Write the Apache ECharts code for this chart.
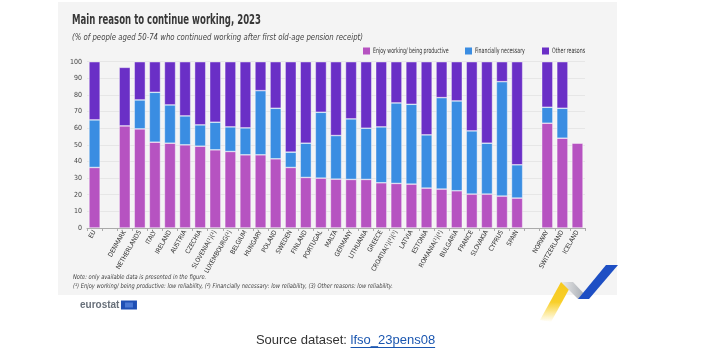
<!DOCTYPE html>
<html>
<head>
<meta charset="utf-8">
<script src="https://cdn.jsdelivr.net/npm/echarts@6/dist/echarts.min.js"></script>
<style>
html,body{margin:0;padding:0;background:#fff;}
#main{width:703px;height:356px;}
</style>
</head>
<body>
<div id="main"></div>
<script>
const categories = ['EU', '', 'DENMARK', 'NETHERLANDS', 'ITALY', 'IRELAND', 'AUSTRIA', 'CZECHIA', 'SLOVENIA(¹)(²)', 'LUXEMBOURG(²)', 'BELGIUM', 'HUNGARY', 'POLAND', 'SWEDEN', 'FINLAND', 'PORTUGAL', 'MALTA', 'GERMANY', 'LITHUANIA', 'GREECE', 'CROATIA(¹)(²)(³)', 'LATVIA', 'ESTONIA', 'ROMANIA(¹)(²)', 'BULGARIA', 'FRANCE', 'SLOVAKIA', 'CYPRUS', 'SPAIN', ' ', 'NORWAY', 'SWITZERLAND', 'ICELAND'];
const enjoyWorking = [36.4, null, 61.4, 59.6, 51.6, 51.0, 50.0, 49.2, 47.0, 46.0, 44.0, 44.0, 41.6, 36.4, 30.4, 30.0, 29.4, 29.2, 29.2, 27.2, 26.8, 26.4, 24.0, 23.4, 22.4, 20.4, 20.4, 19.2, 18.0, null, 63.0, 54.0, 51.0];
const financiallyNecessary = [28.6, null, null, 17.4, 30.0, 23.0, 17.4, 12.8, 16.6, 14.8, 16.2, 38.6, 30.4, 9.2, 20.6, 39.6, 26.2, 36.4, 30.8, 33.6, 48.4, 48.0, 32.0, 55.0, 54.0, 38.0, 30.6, 68.8, 20.0, null, 9.6, 18.0, null];
const otherReasons = [35.0, null, 35.2, 23.0, 18.4, 26.0, 32.6, 38.0, 36.4, 39.2, 39.8, 17.4, 28.0, 54.4, 49.0, 30.4, 44.4, 34.4, 40.0, 39.2, 24.8, 25.6, 44.0, 21.6, 23.6, 41.6, 49.0, 12.0, 62.0, null, 27.4, 28.0, null];
const seriesNames = ['Enjoy working/ being productive', 'Financially necessary', 'Other reasons'];
const titleText = 'Main reason to continue working, 2023';
const subtitleText = '(% of people aged 50-74 who continued working after first old-age pension receipt)';
const noteLines = ['Note: only available data is presented in the figure.', '(¹) Enjoy working/ being productive: low reliability, (²) Financially necessary: low reliability, (3) Other reasons: low reliability.'];

const FONT = '"DejaVu Sans Condensed", "Liberation Sans", sans-serif';
const ARIAL = '"Liberation Sans", Arial, sans-serif';
const COLORS = ['#b653c1', '#3a8de2', '#6a2fc6'];

const mctx = document.createElement('canvas').getContext('2d');
function measure(text, size, weight, style, fam) {
  mctx.font = (style || 'normal') + ' ' + (weight || 'normal') + ' ' + size + 'px ' + (fam || FONT);
  return mctx.measureText(text).width;
}
// text squeezed horizontally to a target width (condensed look)
function fitText(text, x, y, size, scale, opts) {
  opts = opts || {};
  return {
    type: 'text', x: x, y: y, scaleX: scale, silent: true,
    style: {text: text, fontFamily: opts.fam || FONT, fontSize: size, fontWeight: opts.weight || 'normal', fontStyle: opts.style || 'normal', fill: opts.fill || '#333', align: 'left', verticalAlign: 'middle'}
  };
}

const titleScale = 189 / measure(titleText, 14, 'bold');
const subScale = 291 / measure(subtitleText, 8.5, 'normal', 'italic');
const noteScale = 320 / measure(noteLines[1], 6.5, 'normal', 'italic');
const legScale = 75.6 / measure(seriesNames[0], 7.5);

const legendItems = [];
const legX = [363, 465, 542];
for (let i = 0; i < 3; i++) {
  legendItems.push({type: 'rect', silent: true, shape: {x: legX[i], y: 47.5, width: 7, height: 7}, style: {fill: COLORS[i]}});
  legendItems.push(fitText(seriesNames[i], legX[i] + 10, 51.5, 7.5, legScale, {fill: '#333'}));
}

const srcA = 'Source dataset: ', srcB = 'lfso_23pens08';
const wA = measure(srcA, 13, 'normal', 'normal', ARIAL), wB = measure(srcB, 13, 'normal', 'normal', ARIAL);
const srcX = 345.5 - (wA + wB) / 2;
const euroW = measure('eurostat', 10, 'bold', 'normal', ARIAL);
const flagX = 80 + euroW + 1.5;

const chart = echarts.init(document.getElementById('main'), null, {renderer: 'canvas'});

function mk(name, data, color) {
  return {
    name: name, type: 'bar', stack: 'total', data: data,
    barCategoryGap: '26%',
    itemStyle: {color: color, borderColor: 'rgba(255,255,255,0.7)', borderWidth: 0.6},
    emphasis: {disabled: true}
  };
}

chart.setOption({
  animation: false,
  textStyle: {fontFamily: FONT},
  graphic: [
    {type: 'rect', z: -10, silent: true, shape: {x: 58, y: 2, width: 559, height: 293}, style: {fill: '#f4f4f4'}},
    fitText(titleText, 72, 20, 14, titleScale, {weight: 'bold', fill: '#383838'}),
    fitText(subtitleText, 72, 38, 8.5, subScale, {style: 'italic', fill: '#444'}),
    ...legendItems,
    fitText(noteLines[0], 73, 277, 6.5, noteScale, {style: 'italic', fill: '#444'}),
    fitText(noteLines[1], 73, 286, 6.5, noteScale, {style: 'italic', fill: '#444'}),
    {type: 'text', x: 80, y: 305, silent: true, style: {text: 'eurostat', fontFamily: ARIAL, fontWeight: 'bold', fontSize: 10, fill: '#68707a', verticalAlign: 'middle'}},
    {type: 'rect', silent: true, shape: {x: flagX, y: 300.5, width: 16, height: 9}, style: {fill: '#1f4fb4'}},
    {type: 'rect', silent: true, shape: {x: flagX + 4, y: 302.5, width: 8, height: 5}, style: {fill: '#4a78d4'}},
    {type: 'polygon', silent: true, shape: {points: [[540, 320], [561, 282], [573, 282], [551, 322]]}, style: {fill: new echarts.graphic.LinearGradient(0, 1, 0, 0, [{offset: 0, color: 'rgba(250,210,40,0)'}, {offset: 0.5, color: '#f8cf2a'}, {offset: 1, color: '#f6c81e'}])}},
    {type: 'polygon', silent: true, shape: {points: [[561, 282], [573, 282], [589, 299], [578, 299]]}, style: {fill: new echarts.graphic.LinearGradient(0, 0, 1, 0, [{offset: 0, color: '#ececec'}, {offset: 1, color: '#9aa0a8'}])}},
    {type: 'polygon', silent: true, shape: {points: [[578, 299], [589, 299], [618, 265], [606, 265]]}, style: {fill: '#1e4fc4'}},
    {type: 'text', x: srcX, y: 340, silent: true, style: {text: srcA, fontFamily: ARIAL, fontSize: 13, fill: '#333', verticalAlign: 'middle'}},
    {type: 'text', x: srcX + wA, y: 340, silent: true, style: {text: srcB, fontFamily: ARIAL, fontSize: 13, fill: '#1a56b0', verticalAlign: 'middle'}},
    {type: 'line', silent: true, shape: {x1: srcX + wA, y1: 347.5, x2: srcX + wA + wB, y2: 347.5}, style: {stroke: '#1a56b0', lineWidth: 1}}
  ],
  legend: {show: false, data: seriesNames},
  grid: {left: 87, right: 118, top: 61.7, bottom: 128, containLabel: false},
  xAxis: {
    type: 'category', data: categories,
    axisLine: {lineStyle: {color: '#aaa', width: 1}},
    axisTick: {show: true, length: 3, lineStyle: {color: '#aaa'}},
    axisLabel: {rotate: 60, fontSize: 6.5, color: '#333', margin: 3, interval: 0, fontFamily: FONT}
  },
  yAxis: {
    type: 'value', min: 0, max: 100, interval: 10,
    axisLine: {show: false}, axisTick: {show: false},
    axisLabel: {fontSize: 7, color: '#444', margin: 5, fontFamily: FONT},
    splitLine: {lineStyle: {color: '#e2e2e2', width: 0.8}}
  },
  series: [
    mk(seriesNames[0], enjoyWorking, COLORS[0]),
    mk(seriesNames[1], financiallyNecessary, COLORS[1]),
    mk(seriesNames[2], otherReasons, COLORS[2])
  ]
});
</script>
</body>
</html>
